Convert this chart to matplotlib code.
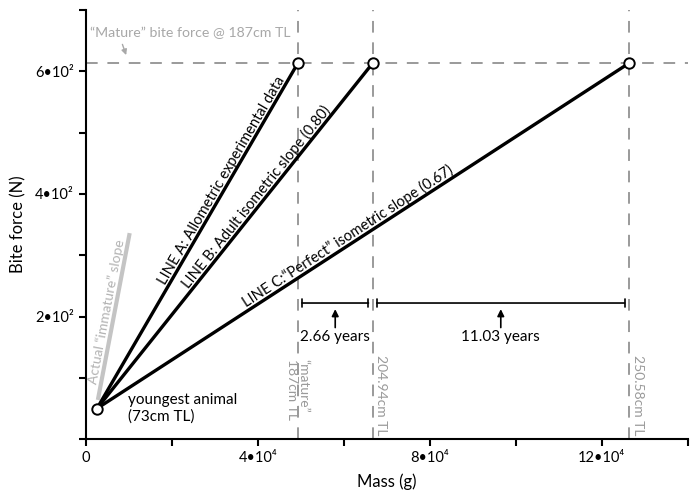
import numpy as np
import matplotlib
matplotlib.use("Agg")
import matplotlib.pyplot as plt

plt.rcParams['font.family'] = ['Lato', 'DejaVu Sans']

# ---- data ----
young_mass = 2600          # g
young_force = 50           # N
mature_force = 613         # N
end_mass = [49300, 66700, 126300]   # line A, B, C end points
line_labels = ["LINE A: Allometric experimental data",
               "LINE B: Adult isometric slope (0.80)",
               "LINE C:\u201cPerfect\u201d isometric slope (0.67)"]
label_pos = [0.65, 0.60, 0.48]      # fraction along the line

vline_labels = ["\u201cmature\u201d\n187cm TL", "204.94cm TL", "250.58cm TL"]
intervals = ["2.66 years", "11.03 years"]

immature_x = [2800, 10200]
immature_y = [64, 336]

xticks = np.arange(0, 140001, 20000)
xtick_labels = ["0", "", "4\u202210\u2074", "", "8\u202210\u2074", "", "12\u202210\u2074", ""]
yticks = np.arange(0, 701, 100)
ytick_labels = ["", "", "2\u202210\u00b2", "", "4\u202210\u00b2", "", "6\u202210\u00b2", ""]

grey = "#9a9a9a"
lightgrey = "#c4c4c4"

fig = plt.figure(figsize=(6.92, 4.94), dpi=100)
ax = fig.add_axes([0.124, 0.111, 0.870, 0.869])
ax.set_xlim(0, 140000)
ax.set_ylim(0, 700)

# dashed reference lines
ax.axhline(mature_force, color=grey, lw=1.4, dashes=(6, 5), zorder=1)
for m in end_mass:
    ax.axvline(m, color=grey, lw=1.4, dashes=(6, 5), zorder=1)

# immature slope
ax.plot(immature_x, immature_y, color=lightgrey, lw=3, solid_capstyle='butt', zorder=1)

# main lines
for m in end_mass:
    ax.plot([young_mass, m], [young_force, mature_force], color='black', lw=2.4, zorder=3)
ax.plot(end_mass, [mature_force] * 3, 'o', mfc='white', mec='black', ms=7.5, mew=1.4, zorder=4)
ax.plot([young_mass], [young_force], 'o', mfc='white', mec='black', ms=7.5, mew=1.4, zorder=4)

fig.canvas.draw()


def screen_angle(x0, y0, x1, y1):
    p0 = ax.transData.transform((x0, y0))
    p1 = ax.transData.transform((x1, y1))
    return np.degrees(np.arctan2(p1[1] - p0[1], p1[0] - p0[0]))


for m, lab, t in zip(end_mass, line_labels, label_pos):
    ang = screen_angle(young_mass, young_force, m, mature_force)
    x = young_mass + t * (m - young_mass)
    y = young_force + t * (mature_force - young_force)
    ax.text(x, y, lab, rotation=ang, rotation_mode='anchor', ha='center', va='bottom',
            fontsize=10.5, zorder=5)

ang = screen_angle(immature_x[0], immature_y[0], immature_x[1], immature_y[1])
ax.text(immature_x[0] + 300, immature_y[0] + 25, "Actual \u201cimmature\u201d slope", rotation=ang,
        rotation_mode='anchor', ha='left', va='bottom', fontsize=10, color="#b3b3b3")

ax.annotate("youngest animal\n(73cm TL)", xy=(young_mass, young_force), xytext=(22, 11),
            textcoords='offset points', ha='left', va='top', fontsize=11)

# mature bite force label
ax.text(1000, 662, "\u201cMature\u201d bite force @ 187cm TL", ha='left', va='center',
        fontsize=10.2, color="#a8a8a8")
ax.annotate("", xy=(9600, 622), xytext=(8300, 648),
            arrowprops=dict(arrowstyle='-|>', color="#a8a8a8", lw=1, mutation_scale=8))

# vertical labels
ax.text(end_mass[0], 130, vline_labels[0], rotation=270, ha='center', va='top',
        multialignment='left', fontsize=10, color=grey, linespacing=0.95)
for m, lab in zip(end_mass[1:], vline_labels[1:]):
    ax.annotate(lab, xy=(m, 137), xytext=(2, 0), textcoords='offset points', rotation=270,
                ha='left', va='top', fontsize=10, color=grey)

# intervals
bar_y = 222
for (a, b), lab in zip([(end_mass[0], end_mass[1]), (end_mass[1], end_mass[2])], intervals):
    ax.annotate("", xy=(a, bar_y), xytext=(b, bar_y),
                arrowprops=dict(arrowstyle='|-|, widthA=0.3, widthB=0.3', color='black', lw=1.2,
                                shrinkA=3, shrinkB=3))
    mid = (a + b) / 2
    ax.annotate("", xy=(mid, 212), xytext=(mid, 182),
                arrowprops=dict(arrowstyle='-|>', color='black', lw=1.2, mutation_scale=10,
                                shrinkA=0, shrinkB=0))
    ax.text(mid, 178, lab, ha='center', va='top', fontsize=11)

# axes styling
for s in ['top', 'right']:
    ax.spines[s].set_visible(False)
for s in ['left', 'bottom']:
    ax.spines[s].set_linewidth(1.5)
ax.set_xticks(xticks)
ax.set_xticklabels(xtick_labels, fontsize=10.5)
ax.set_yticks(yticks)
ax.set_yticklabels(ytick_labels, fontsize=10.5)
ax.tick_params(direction='out', length=5, width=1.5)
ax.set_xlabel("Mass (g)", fontsize=12, labelpad=6)
ax.set_ylabel("Bite force (N)", fontsize=12, labelpad=6)

fig.savefig("out.png", dpi=100)
